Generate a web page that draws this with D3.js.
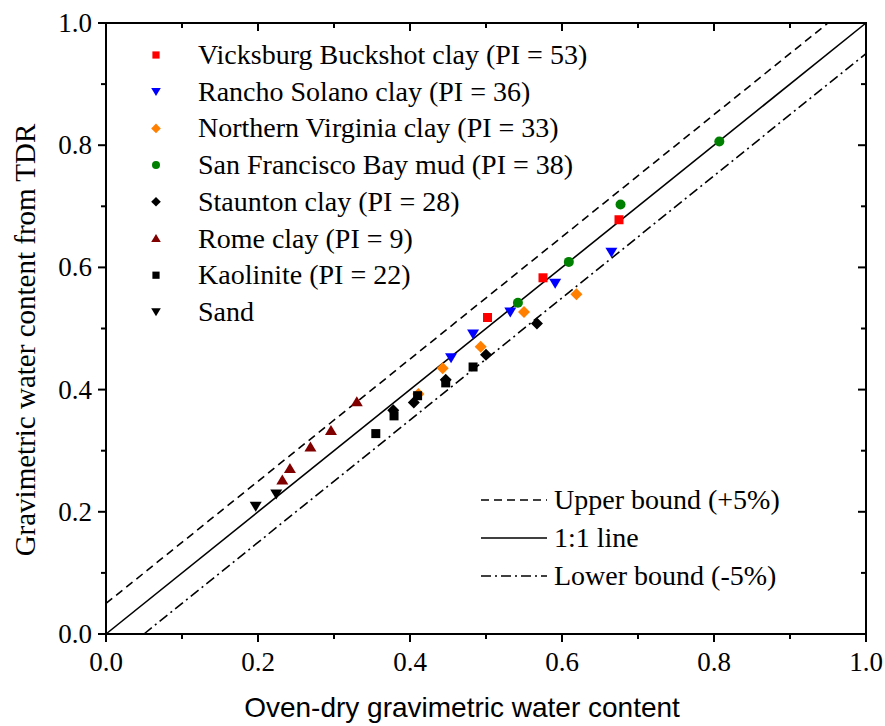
<!DOCTYPE html>
<html><head><meta charset="utf-8">
<script src="https://cdn.jsdelivr.net/npm/d3@7/dist/d3.min.js"></script>
<style>
body{margin:0;background:#fff}
.serif{font-family:"Liberation Serif","Times New Roman",Times,"DejaVu Serif",serif}
.sans{font-family:"Liberation Sans",Arial,Helvetica,sans-serif}
</style>
</head><body>
<script>
// Data
const vicksburg = [[0.502,0.518],[0.575,0.583],[0.675,0.678]];
const rancho = [[0.454,0.452],[0.483,0.491],[0.532,0.527],[0.591,0.574],[0.665,0.625]];
const virginia = [[0.411,0.393],[0.443,0.435],[0.493,0.470],[0.550,0.527],[0.619,0.556]];
const sfbay = [[0.542,0.542],[0.609,0.609],[0.677,0.703],[0.807,0.806]];
const staunton = [[0.378,0.366],[0.405,0.379],[0.447,0.416],[0.500,0.457],[0.567,0.508]];
const rome = [[0.232,0.252],[0.242,0.271],[0.269,0.306],[0.296,0.333],[0.330,0.380]];
const kaolinite = [[0.355,0.328],[0.379,0.357],[0.410,0.390],[0.447,0.411],[0.483,0.437]];
const sand = [[0.197,0.209],[0.224,0.229]];
const seriesNames = ["Vicksburg Buckshot clay (PI = 53)","Rancho Solano clay (PI = 36)","Northern Virginia clay (PI = 33)","San Francisco Bay mud (PI = 38)","Staunton clay (PI = 28)","Rome clay (PI = 9)","Kaolinite (PI = 22)","Sand"];
const lineNames = ["Upper bound (+5%)","1:1 line","Lower bound (-5%)"];
const xTicks = [0,0.2,0.4,0.6,0.8,1.0];
const yTicks = [0,0.2,0.4,0.6,0.8,1.0];
const minorTicks = [0.1,0.3,0.5,0.7,0.9];

const W=885,H=726;
const svg=d3.select("body").append("svg").attr("width",W).attr("height",H);
const x=d3.scaleLinear().domain([0,1]).range([106,866]);
const y=d3.scaleLinear().domain([0,1]).range([634,23]);

// reference lines
const lines=[
 {pts:[[0,0.05],[0.95,1]],dash:"8,5"},
 {pts:[[0,0],[1,1]],dash:null},
 {pts:[[0.05,0],[1,0.95]],dash:"10,4,2,4"}
];
const lg=d3.line().x(d=>x(d[0])).y(d=>y(d[1]));
lines.forEach(l=>{
  svg.append("path").attr("d",lg(l.pts)).attr("fill","none").attr("stroke","#000")
   .attr("stroke-width",1.6).attr("stroke-dasharray",l.dash);
});

// symbols
const series=[
 {data:vicksburg,color:"#ff0000",type:"square"},
 {data:rancho,color:"#0000ff",type:"down"},
 {data:virginia,color:"#ff7f00",type:"diamond"},
 {data:sfbay,color:"#008000",type:"circle"},
 {data:staunton,color:"#000000",type:"diamond"},
 {data:rome,color:"#800000",type:"up"},
 {data:kaolinite,color:"#000000",type:"square"},
 {data:sand,color:"#000000",type:"down"}
];
function sym(g,type,color,s){
  const k=s||1;
  if(type==="square") g.append("rect").attr("x",-4.5*k).attr("y",-4.5*k).attr("width",9*k).attr("height",9*k).attr("fill",color);
  else if(type==="circle") g.append("circle").attr("r",5*k).attr("fill",color);
  else if(type==="diamond") g.append("path").attr("d",`M0,${-6*k}L${6*k},0L0,${6*k}L${-6*k},0Z`).attr("fill",color);
  else if(type==="down") g.append("path").attr("d",`M${-6*k},${-4.5*k}L${6*k},${-4.5*k}L0,${5.5*k}Z`).attr("fill",color);
  else if(type==="up") g.append("path").attr("d",`M${-6*k},${4.5*k}L${6*k},${4.5*k}L0,${-5.5*k}Z`).attr("fill",color);
}
series.forEach(s=>{
  s.data.forEach(d=>{
    const g=svg.append("g").attr("transform",`translate(${x(d[0])},${y(d[1])})`);
    sym(g,s.type,s.color,1);
  });
});

// frame
svg.append("rect").attr("x",106).attr("y",23).attr("width",760).attr("height",611)
  .attr("fill","none").attr("stroke","#000").attr("stroke-width",2);

// ticks
const ax=svg.append("g").attr("stroke","#000").attr("stroke-width",2);
xTicks.forEach(t=>{
  ax.append("line").attr("x1",x(t)).attr("x2",x(t)).attr("y1",634).attr("y2",642);
  ax.append("line").attr("x1",x(t)).attr("x2",x(t)).attr("y1",23).attr("y2",31);
});
minorTicks.forEach(t=>{
  ax.append("line").attr("x1",x(t)).attr("x2",x(t)).attr("y1",634).attr("y2",639);
  ax.append("line").attr("x1",x(t)).attr("x2",x(t)).attr("y1",23).attr("y2",28);
  ax.append("line").attr("y1",y(t)).attr("y2",y(t)).attr("x1",106).attr("x2",101);
  ax.append("line").attr("y1",y(t)).attr("y2",y(t)).attr("x1",866).attr("x2",861);
});
yTicks.forEach(t=>{
  ax.append("line").attr("y1",y(t)).attr("y2",y(t)).attr("x1",106).attr("x2",98);
  ax.append("line").attr("y1",y(t)).attr("y2",y(t)).attr("x1",866).attr("x2",858);
});
xTicks.forEach(t=>{
  svg.append("text").attr("class","serif").attr("x",x(t)).attr("y",671).attr("text-anchor","middle")
   .attr("font-size",27).text(t.toFixed(1));
});
yTicks.forEach(t=>{
  svg.append("text").attr("class","serif").attr("x",92).attr("y",y(t)+9).attr("text-anchor","end")
   .attr("font-size",27).text(t.toFixed(1));
});

// axis titles
svg.append("text").attr("class","sans").attr("x",462).attr("y",717).attr("text-anchor","middle")
  .attr("font-size",28).text("Oven-dry gravimetric water content");
svg.append("text").attr("class","serif").attr("transform","translate(35,340) rotate(-90)").attr("text-anchor","middle")
  .attr("font-size",29).text("Gravimetric water content from TDR");

// legend (symbols)
seriesNames.forEach((n,i)=>{
  const yy=55+i*36.7;
  const g=svg.append("g").attr("transform",`translate(156,${yy})`);
  sym(g,series[i].type,series[i].color,0.8);
  svg.append("text").attr("class","serif").attr("x",198).attr("y",yy+9).attr("font-size",28).text(n);
});
// legend (lines)
lineNames.forEach((n,i)=>{
  const yy=500+i*38;
  svg.append("line").attr("x1",481).attr("x2",547).attr("y1",yy).attr("y2",yy)
   .attr("stroke","#000").attr("stroke-width",1.6).attr("stroke-dasharray",lines[i].dash);
  svg.append("text").attr("class","serif").attr("x",554).attr("y",yy+9).attr("font-size",28).text(n);
});
</script>
</body></html>
